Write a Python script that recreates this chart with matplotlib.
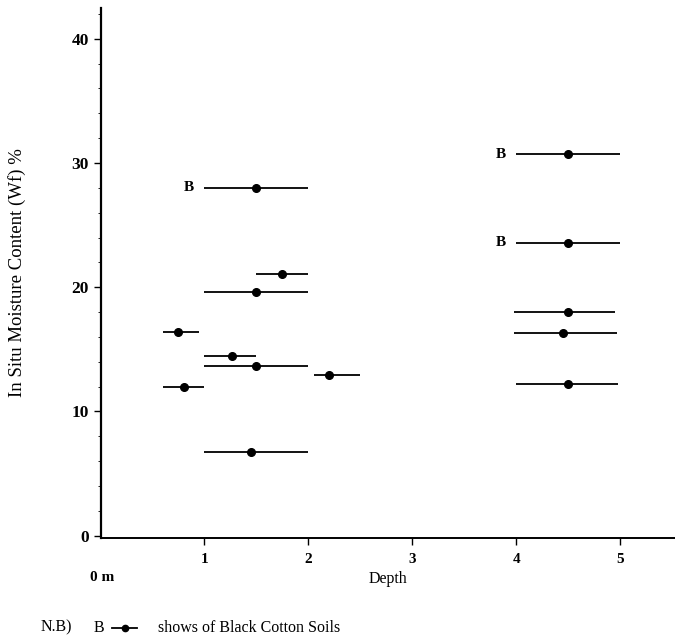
import matplotlib.pyplot as plt
from matplotlib.lines import Line2D

# moisture content readings: depth of sample, depth range, moisture %
depth = [1.5, 1.75, 1.5, 0.75, 1.27, 1.5, 2.2, 0.8, 1.45,
         4.5, 4.5, 4.5, 4.45, 4.5]
range_start = [1.0, 1.5, 1.0, 0.6, 1.0, 1.0, 2.05, 0.6, 1.0,
               4.0, 4.0, 3.98, 3.98, 4.0]
range_end = [2.0, 2.0, 2.0, 0.95, 1.5, 2.0, 2.5, 1.0, 2.0,
             5.0, 5.0, 4.95, 4.97, 4.98]
moisture = [28.0, 21.1, 19.6, 16.4, 14.5, 13.7, 12.9, 12.0, 6.7,
            30.7, 23.6, 18.0, 16.3, 12.2]
black_cotton = [True, False, False, False, False, False, False, False, False,
                True, True, False, False, False]

x_ticks = [1, 2, 3, 4, 5]
x_tick_labels = ['1', '2', '3', '4', '5']
y_ticks = [0, 10, 20, 30, 40]

plt.rcParams['font.family'] = ['Liberation Serif', 'DejaVu Serif']

fig = plt.figure(figsize=(6.75, 6.43), dpi=100)
ax = fig.add_axes([0.149, 0.163, 0.851, 0.825])

# horizontal bars for depth range + dot at sample depth
for x, x0, x1, y, b in zip(depth, range_start, range_end, moisture, black_cotton):
    ax.hlines(y, x0, x1, color='black', lw=1.3)
    ax.plot(x, y, 'o', color='black', ms=5.5)
    if b:
        ax.text(x0 - 0.1, y, 'B', ha='right', va='center', fontsize=11, fontweight='bold')

ax.set_xlim(0, 5.53)
ax.set_ylim(-0.2, 42.5)
ax.set_xticks(x_ticks)
ax.set_xticklabels(x_tick_labels, fontweight='bold', fontsize=11)
ax.set_yticks(y_ticks)
ax.set_yticklabels([str(v) for v in y_ticks], fontweight='bold', fontsize=12.5)
ax.set_yticks([v for v in range(0, 43, 2) if v % 10], minor=True)
ax.tick_params(axis='y', which='minor', length=2, width=0.6)
ax.tick_params(axis='both', which='major', length=5, width=1)
ax.tick_params(axis='x', pad=6)
ax.spines['top'].set_visible(False)
ax.spines['right'].set_visible(False)
ax.spines['left'].set_linewidth(1.6)
ax.spines['bottom'].set_linewidth(1.4)

ax.text(-0.1, -3.4, '0 m', ha='left', va='center', fontsize=11, fontweight='bold',
        transform=ax.transData, clip_on=False)
ax.set_xlabel('Depth', fontsize=11.5, labelpad=3)
ax.set_ylabel('In Situ Moisture Content (Wf) %', fontsize=13.5, labelpad=33)

# note at the bottom
fig.text(0.06, 0.024, 'N.B)', fontsize=11.5, va='center')
fig.text(0.138, 0.024, 'B', fontsize=11.5, va='center')
fig.add_artist(Line2D([0.166, 0.203], [0.024, 0.024], color='black', lw=1.3))
fig.add_artist(Line2D([0.185], [0.024], marker='o', color='black', ms=4.5))
fig.text(0.234, 0.024, 'shows of Black Cotton Soils', fontsize=11.5, va='center')

fig.savefig('out.png', dpi=100)
